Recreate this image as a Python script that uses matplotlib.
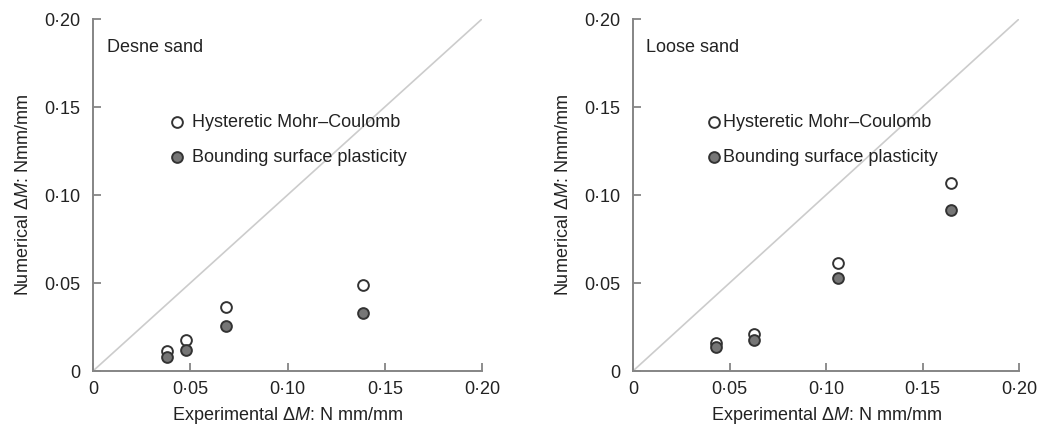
import matplotlib.pyplot as plt
import numpy as np

plt.rcParams['font.family'] = ['Liberation Sans', 'DejaVu Sans']
plt.rcParams['mathtext.fontset'] = 'custom'
plt.rcParams['mathtext.it'] = 'Liberation Sans:italic'
plt.rcParams['mathtext.rm'] = 'Liberation Sans'

# dense sand
dense_exp = [0.0383, 0.048, 0.0683, 0.139]
dense_hmc = [0.0112, 0.0175, 0.0362, 0.0488]
dense_bsp = [0.0080, 0.0118, 0.0254, 0.0330]
# loose sand
loose_exp = [0.0432, 0.0627, 0.1063, 0.1647]
loose_hmc = [0.0161, 0.0209, 0.0615, 0.1066]
loose_bsp = [0.0137, 0.0175, 0.0526, 0.0915]

ticks = [0, 0.05, 0.10, 0.15, 0.20]
tick_labels = ['0', '0\u00b705', '0\u00b710', '0\u00b715', '0\u00b720']
panel_titles = ['Desne sand', 'Loose sand']
series_names = ['Hysteretic Mohr\u2013Coulomb', 'Bounding surface plasticity']

W, H = 1040, 428
fig = plt.figure(figsize=(W/100, H/100), dpi=100)

axes_px = [(93, 19, 389, 352), (633, 19, 386, 352)]
panels = [(dense_exp, dense_hmc, dense_bsp), (loose_exp, loose_hmc, loose_bsp)]
txtc = '#222222'
spc = '#858585'

for i, (px, data) in enumerate(zip(axes_px, panels)):
    l, t, w, h = px
    ax = fig.add_axes([l/W, (H-t-h)/H, w/W, h/H])
    ex, hmc, bsp = data
    ax.plot([0, 0.2], [0, 0.2], color='#cccccc', lw=1.2, zorder=1)
    s1 = ax.scatter(ex, hmc, s=60, facecolor='white', edgecolor='#333333', lw=1.4, zorder=3)
    s2 = ax.scatter(ex, bsp, s=60, facecolor='#767676', edgecolor='#333333', lw=1.4, zorder=3)
    ax.set_xlim(0, 0.2)
    ax.set_ylim(0, 0.2)
    ax.set_xticks(ticks)
    ax.set_xticklabels(tick_labels)
    ax.set_yticks(ticks)
    ax.set_yticklabels(tick_labels)
    for s in ['top', 'right']:
        ax.spines[s].set_visible(False)
    for s in ['left', 'bottom']:
        ax.spines[s].set_color(spc)
        ax.spines[s].set_linewidth(1.4)
    ax.tick_params(direction='in', length=6, width=1.3, color=spc, labelsize=13, labelcolor=txtc)
    ax.tick_params(axis='x', pad=7)
    ax.tick_params(axis='y', pad=9)
    ax.set_xlabel(r'Experimental $\mathit{\Delta M}$: N mm/mm', fontsize=13, color=txtc, labelpad=5)
    ax.set_ylabel(r'Numerical $\mathit{\Delta M}$: Nmm/mm', fontsize=13, color=txtc, labelpad=9)
    ax.text(0.036 if i == 0 else 0.034, 0.918, panel_titles[i], transform=ax.transAxes,
            fontsize=13, color=txtc, va='center')
    ax.legend([s1, s2], series_names, loc='upper left',
              bbox_to_anchor=(0.198 if i == 0 else 0.19, 0.73), frameon=False,
              fontsize=13, handlelength=0.8, handletextpad=0.4 if i == 0 else 0.15,
              labelspacing=1.0, borderpad=0, borderaxespad=0, labelcolor=txtc)

fig.savefig('out.png', dpi=100)
